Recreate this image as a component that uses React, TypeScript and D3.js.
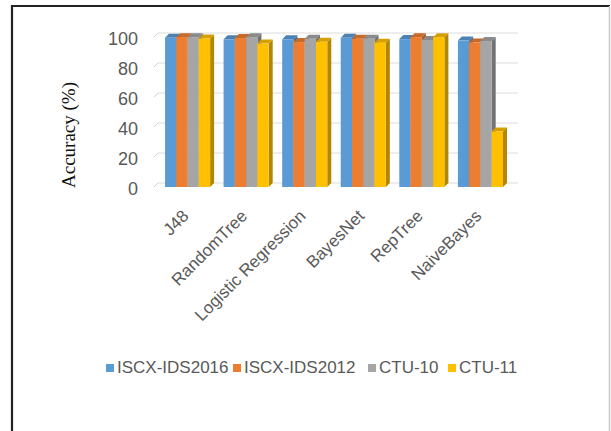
import * as d3 from "d3";

// chart data
const categories = ["J48", "RandomTree", "Logistic Regression", "BayesNet", "RepTree", "NaiveBayes"];
const seriesNames = ["ISCX-IDS2016", "ISCX-IDS2012", "CTU-10", "CTU-11"];
const iscx2016 = [99.5, 98.5, 98.5, 99.5, 98.6, 97.6];
const iscx2012 = [99.9, 99.3, 96.6, 98.8, 99.9, 96.3];
const ctu10 = [99.9, 99.9, 98.8, 98.8, 98.0, 97.3];
const ctu11 = [99.0, 95.6, 96.8, 96.2, 99.9, 37.0];
const yTicks = [0, 20, 40, 60, 80, 100];

const colors = ["#5B9BD5", "#ED7D31", "#A5A5A5", "#FFC000"];

const App = () => {
  const width = 611;
  const height = 431;
  const seriesValues = [iscx2016, iscx2012, ctu10, ctu11];

  const x = d3.scaleBand().domain(categories).range([158, 510]).paddingInner(0.23).paddingOuter(0.12);
  const xs = d3.scaleBand().domain(seriesNames).range([0, x.bandwidth()]);
  const y = d3.scaleLinear().domain([0, 100]).range([187, 37]);

  // 3D depth offset
  const dx = 4;
  const dy = 4;
  const gridLeft = 154;
  const gridRight = 514;
  const labelFont = "'Liberation Sans', Arial, sans-serif";

  return (
    <div style={{position: "absolute", left: 0, top: 0}}>
      <svg width={width} height={height} style={{display: "block", background: "#fff"}}>
        {/* frame */}
        <path d={`M12,${height} V6 H610`} fill="none" stroke="#222" strokeWidth={2.2}/>
        <line x1={609.5} y1={6} x2={609.5} y2={height} stroke="#c8c8c8" strokeWidth={1.5}/>

        {/* back wall gridlines */}
        {yTicks.map(t => (
          <g key={t}>
            <line x1={gridLeft + dx} x2={gridRight + dx} y1={y(t) - dy} y2={y(t) - dy} stroke="#dcdcdc" strokeWidth={1}/>
            <line x1={gridLeft} x2={gridLeft + dx} y1={y(t)} y2={y(t) - dy} stroke="#d0d0d0" strokeWidth={1}/>
          </g>
        ))}

        {/* bars */}
        {categories.map((c, i) => (
          <g key={c}>
            {seriesNames.map((s, j) => {
              const v = seriesValues[j][i];
              const x0 = x(c)! + xs(s)!;
              const w = xs.bandwidth();
              const yt = y(v);
              const yb = y(0);
              const dark = d3.color(colors[j])!.darker(1).formatHex();
              const mid = d3.color(colors[j])!.darker(0.5).formatHex();
              return (
                <g key={s}>
                  <path d={`M${x0 + w},${yt} L${x0 + w + dx},${yt - dy} L${x0 + w + dx},${yb - dy} L${x0 + w},${yb} Z`} fill={dark}/>
                  <path d={`M${x0},${yt} L${x0 + dx},${yt - dy} L${x0 + w + dx},${yt - dy} L${x0 + w},${yt} Z`} fill={mid}/>
                  <rect x={x0} y={yt} width={w} height={yb - yt} fill={colors[j]}/>
                </g>
              );
            })}
          </g>
        ))}

        {/* y tick labels */}
        {yTicks.map(t => (
          <text key={t} x={138} y={y(t) + 3.5} textAnchor="end" dominantBaseline="middle"
                fontFamily={labelFont} fontSize={18} fill="#595959">{t}</text>
        ))}

        {/* y axis title */}
        <text transform={`translate(75,135) rotate(-90)`} textAnchor="middle"
              fontFamily="'Liberation Serif', 'Times New Roman', serif" fontSize={19} fill="#111">Accuracy (%)</text>

        {/* category labels */}
        {categories.map(c => (
          <text key={c} transform={`translate(${x(c)! + x.bandwidth() / 2 + 2},217) rotate(-45)`}
                textAnchor="end" fontFamily={labelFont} fontSize={17} fill="#595959">{c}</text>
        ))}

        {/* legend */}
        {seriesNames.map((s, j) => {
          const lx = [106, 233, 368, 448][j];
          return (
            <g key={s} transform={`translate(${lx},368)`}>
              <rect x={0} y={-4} width={8} height={8} fill={colors[j]}/>
              <text x={11} y={1} dominantBaseline="middle" fontFamily={labelFont} fontSize={17} fill="#595959">{s}</text>
            </g>
          );
        })}
      </svg>
    </div>
  );
};

export default App;
